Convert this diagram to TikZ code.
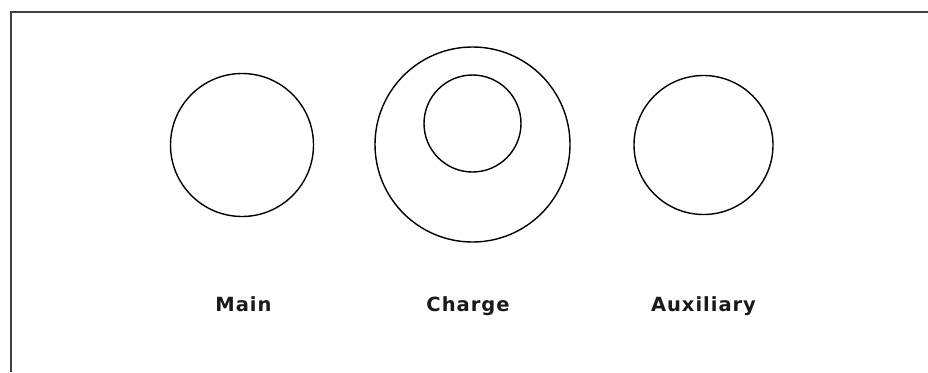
\documentclass[tikz,border=0pt]{standalone}
\usepackage{fontspec}
\newfontfamily\lblfont[LetterSpace=5]{DejaVu Sans}
\usetikzlibrary{positioning}
\tikzset{
  ring/.style  = {draw, circle, line width=1.4pt, inner sep=0pt},
  frm/.style   = {line width=2pt, black!75},
  lbl/.style   = {font=\lblfont\bfseries\fontsize{19.5}{23}\selectfont, anchor=base, inner sep=0pt, text=black!90}
}

\begin{document}
\begin{tikzpicture}[x=1pt, y=-1pt]
\useasboundingbox (0,0) rectangle (928,372);
% ---- frame (left and top edges only) ----
\draw[frm] (11,372) -- (11,12) -- (928,12);

% ---- circles ----
\node[ring, minimum size=143pt] (main) at (242,145) {};
\node[ring, minimum size=195pt] (chgout) at (472.5,144.5) {};
\node[ring, minimum size=97pt]  (chgin)  at (472.5,123.5) {};
\node[ring, minimum size=139pt] (aux) at (703.5,145) {};

% ---- labels ----
\node[lbl] (mainlbl) at (243.5,311) {Main};
\node[lbl] (chglbl)  at (468,311) {Charge};
\node[lbl] (auxlbl)  at (703.5,311) {Auxiliary};
\end{tikzpicture}
\end{document}
